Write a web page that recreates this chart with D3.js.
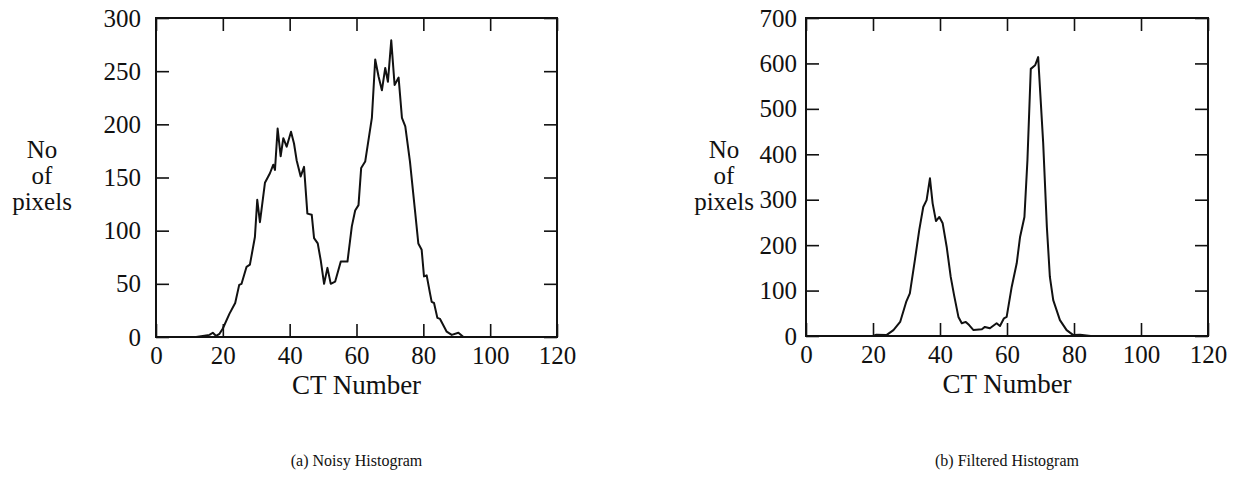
<!DOCTYPE html>
<html>
<head>
<meta charset="utf-8">
<script src="https://cdn.jsdelivr.net/npm/d3@7"></script>
<style>
  body { margin: 0; background: #fff; }
  svg text { font-family: "Liberation Serif", "DejaVu Serif", serif; fill: #111; }
</style>
</head>
<body>
<script>
// (a) noisy histogram
const noisyCT = [12, 14, 16, 17, 18, 19, 20, 22, 23.7, 24.9, 25.6, 27.1, 28.1, 29.6, 30.3, 31.1, 32.6, 34.1, 35.1, 35.6,
  36.4, 37.3, 38.1, 39.1, 40.4, 41.3, 42.1, 43.3, 44.3, 45.3, 46.6, 47.3, 48.4, 49.3, 50.3, 51.3, 52.3, 53.6, 55.3, 57.3,
  58.6, 59.6, 60.6, 61.4, 62.6, 64.6, 65.6, 66.6, 67.6, 68.6, 69.4, 70.4, 71.4, 72.6, 73.6, 74.6, 76.0, 77.5, 78.5, 79.5,
  80.2, 81.0, 82.0, 82.5, 83.2, 84.2, 85, 87, 88.5, 90.5, 92, 96];
const noisyCount = [0, 1, 2, 4, 1, 3, 8, 22, 32, 49, 50, 66, 68, 94, 129, 108, 145, 154, 162, 157,
  196, 170, 187, 179, 193, 182, 166, 151, 160, 116, 115, 93, 88, 72, 50, 65, 50, 52, 71, 71,
  104, 119, 124, 159, 165, 206, 261, 245, 232, 253, 240, 279, 237, 244, 206, 198, 165, 119, 88, 82,
  57, 58, 41, 33, 32, 18, 17, 5, 2, 4, 0, 0];

// (b) filtered histogram
const filteredCT = [20, 21, 24, 26.1, 28.1, 29.9, 31.0, 32.5, 33.8, 35.0, 36.0, 37.0, 37.8, 38.8, 39.8, 40.8, 42.0, 43.2,
  44.2, 45.5, 46.5, 47.7, 48.7, 50, 52.5, 53.4, 54.9, 56.9, 57.9, 59.1, 59.9, 61.4, 62.9, 63.9, 65.2, 66.1, 67.1,
  68.4, 69.3, 70.8, 71.9, 72.8, 73.8, 75.8, 77.8, 79.8, 81.8, 85];
const filteredCount = [0, 3, 2, 13, 31, 75, 94, 167, 233, 284, 299, 347, 292, 253, 262, 248, 196, 130,
  90, 42, 28, 31, 24, 13, 15, 20, 17, 28, 22, 39, 42, 108, 160, 218, 262, 387, 588,
  596, 614, 425, 240, 130, 79, 35, 13, 2, 3, 0];

const xTicks = [0, 20, 40, 60, 80, 100, 120];
const noisyYTicks = [0, 50, 100, 150, 200, 250, 300];
const filteredYTicks = [0, 100, 200, 300, 400, 500, 600, 700];
const yLabelLines = ["No", "of", "pixels"];

const svg = d3.select("body").append("svg")
  .attr("width", 1244)
  .attr("height", 481);

function panel(xs, ys, yTicks, yMax, box, pad, labelX, caption) {
  const x = d3.scaleLinear().domain([0, 120]).range([box.left, box.right]);
  const y = d3.scaleLinear().domain([0, yMax]).range([box.bottom, box.top]);
  const tick = 13;

  const g = svg.append("g");

  // frame
  g.append("rect")
    .attr("x", box.left).attr("y", box.top)
    .attr("width", box.right - box.left).attr("height", box.bottom - box.top)
    .attr("fill", "none").attr("stroke", "#111").attr("stroke-width", 2);

  // inward ticks on all four sides, labels only bottom and left
  const bottom = g.append("g").attr("transform", `translate(0,${box.bottom})`)
    .call(d3.axisBottom(x).tickValues(xTicks).tickSize(-tick).tickPadding(9));
  const top = g.append("g").attr("transform", `translate(0,${box.top})`)
    .call(d3.axisTop(x).tickValues(xTicks).tickSize(-tick).tickFormat(""));
  const left = g.append("g").attr("transform", `translate(${box.left},0)`)
    .call(d3.axisLeft(y).tickValues(yTicks).tickSize(-tick).tickPadding(pad));
  const right = g.append("g").attr("transform", `translate(${box.right},0)`)
    .call(d3.axisRight(y).tickValues(yTicks).tickSize(-tick).tickFormat(""));

  [bottom, top, left, right].forEach(a => {
    a.select(".domain").remove();
    a.selectAll("line").attr("stroke", "#111").attr("stroke-width", 1.6);
    a.selectAll("text").attr("font-size", 25).attr("font-family", "Liberation Serif").attr("fill", "#111");
  });

  const line = d3.line().x((d, i) => x(xs[i])).y(d => y(d));
  g.append("path")
    .datum(ys)
    .attr("d", line)
    .attr("fill", "none")
    .attr("stroke", "#111")
    .attr("stroke-width", 2)
    .attr("stroke-linejoin", "round");

  const mid = (box.left + box.right) / 2;
  g.append("text").attr("x", mid).attr("y", box.bottom + 57)
    .attr("text-anchor", "middle").attr("font-size", 27).text("CT Number");

  yLabelLines.forEach((t, i) => {
    g.append("text").attr("x", labelX).attr("y", 158 + i * 26)
      .attr("text-anchor", "middle").attr("font-size", 25).text(t);
  });

  g.append("text").attr("x", mid).attr("y", 466)
    .attr("text-anchor", "middle").attr("font-size", 16).text(caption);
}

panel(noisyCT, noisyCount, noisyYTicks, 300, {left: 156, right: 557, top: 18, bottom: 337}, 15, 42, "(a) Noisy Histogram");
panel(filteredCT, filteredCount, filteredYTicks, 700, {left: 806, right: 1208, top: 18, bottom: 336}, 9, 724, "(b) Filtered Histogram");
</script>
</body>
</html>
